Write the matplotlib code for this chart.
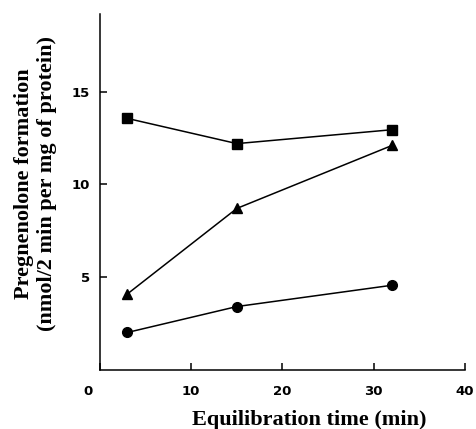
import numpy as np
import matplotlib.pyplot as plt
import matplotlib.transforms as mtransforms

# 数据
time_min = [3, 15, 32]
squares = [13.56, 12.2, 12.95]
triangles = [4.08, 8.7, 12.1]
circles = [2.0, 3.4, 4.55]

x_ticks = [0, 10, 20, 30, 40]
y_ticks = [5, 10, 15]

fig = plt.figure(figsize=(4.77, 4.29), dpi=100)
ax = fig.add_axes([100 / 477, 59.5 / 429, 365 / 477, 355.5 / 429])

ax.plot(time_min, squares, 'k-', marker='s', markersize=6.5, linewidth=1.1)
ax.plot(time_min, triangles, 'k-', marker='^', markersize=6.5, linewidth=1.1)
ax.plot(time_min, circles, 'k-', marker='o', markersize=7, linewidth=1.1)

ax.set_xlim(0, 40)
ax.set_ylim(0, 19.2)

ax.spines['top'].set_visible(False)
ax.spines['right'].set_visible(False)
ax.spines['left'].set_linewidth(1.1)
ax.spines['bottom'].set_linewidth(1.1)

ax.set_xticks(x_ticks)
ax.set_yticks(y_ticks)
ax.tick_params(axis='x', direction='in', length=5, width=1.1, pad=11)
ax.tick_params(axis='y', direction='in', length=5, width=1.1, pad=7)

tick_font = {'family': 'DejaVu Sans', 'size': 9.5, 'weight': 'bold'}
ax.set_xticklabels([str(t) for t in x_ticks], fontdict=tick_font)
ax.set_yticklabels([str(t) for t in y_ticks], fontdict=tick_font)

# "0" 标签向左偏一点
lab0 = ax.get_xticklabels()[0]
lab0.set_transform(lab0.get_transform() + mtransforms.ScaledTranslation(-12 / 100, 0, fig.dpi_scale_trans))

label_font = {'family': 'Liberation Serif', 'size': 16, 'weight': 'bold'}
ax.set_xlabel('Equilibration time (min)', fontdict=label_font)
ax.set_ylabel('Pregnenolone formation\n(nmol/2 min per mg of protein)', fontdict=label_font,
              linespacing=1.2)
ax.xaxis.set_label_coords(0.574, -0.114)
ax.yaxis.set_label_coords(-0.118, 0.523)

plt.savefig('out.png', dpi=100)
